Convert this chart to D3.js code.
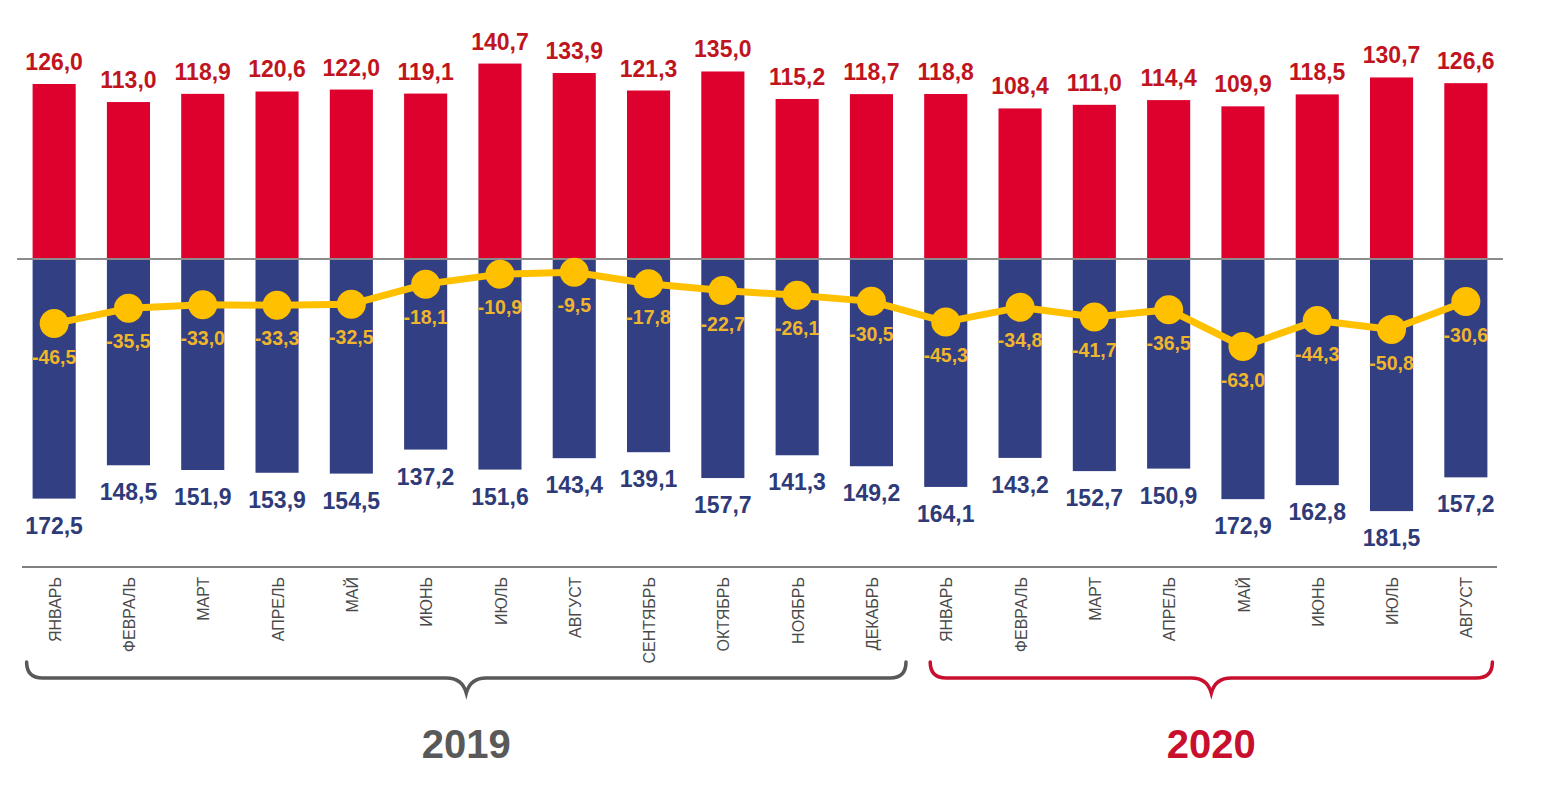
<!DOCTYPE html>
<html><head><meta charset="utf-8">
<script src="https://cdn.jsdelivr.net/npm/d3@7"></script>
<style>html,body{margin:0;padding:0;background:#fff;}svg{display:block;font-family:"Liberation Sans",Arial,sans-serif;}</style>
</head><body>
<svg id="chart" width="1545" height="788"></svg>
<script>
const months = ["ЯНВАРЬ","ФЕВРАЛЬ","МАРТ","АПРЕЛЬ","МАЙ","ИЮНЬ","ИЮЛЬ","АВГУСТ","СЕНТЯБРЬ","ОКТЯБРЬ","НОЯБРЬ","ДЕКАБРЬ",
                "ЯНВАРЬ","ФЕВРАЛЬ","МАРТ","АПРЕЛЬ","МАЙ","ИЮНЬ","ИЮЛЬ","АВГУСТ"];
const redValues = [126.0,113.0,118.9,120.6,122.0,119.1,140.7,133.9,121.3,135.0,115.2,118.7,118.8,108.4,111.0,114.4,109.9,118.5,130.7,126.6];
const blueValues = [172.5,148.5,151.9,153.9,154.5,137.2,151.6,143.4,139.1,157.7,141.3,149.2,164.1,143.2,152.7,150.9,172.9,162.8,181.5,157.2];
const balanceValues = [-46.5,-35.5,-33.0,-33.3,-32.5,-18.1,-10.9,-9.5,-17.8,-22.7,-26.1,-30.5,-45.3,-34.8,-41.7,-36.5,-63.0,-44.3,-50.8,-30.6];
const years = [{label:"2019", from:0, to:11}, {label:"2020", from:12, to:19}];

const svg = d3.select("#chart");
const idx = d3.range(months.length);
const x = d3.scaleBand().domain(idx).range([17, 1503]).paddingInner(0.42).paddingOuter(0.21);
const y = d3.scaleLinear().domain([-200, 150]).range([259 + 200*1.389, 259 - 150*1.389]);
const fmt = v => d3.format(".1f")(Math.abs(v)).replace(".", ",");
const fmtS = v => d3.format(".1f")(v).replace(".", ",").replace("−","-");

const RED = "#de002d", BLUE = "#323f83", GOLD = "#ffc000";
const cx = i => x(i) + x.bandwidth()/2;

// red bars
svg.append("g").selectAll("rect").data(redValues).join("rect")
  .attr("x", (d,i) => x(i)).attr("width", x.bandwidth())
  .attr("y", d => y(d)).attr("height", d => y(0) - y(d)).attr("fill", RED);
// blue bars (negative)
svg.append("g").selectAll("rect").data(blueValues).join("rect")
  .attr("x", (d,i) => x(i)).attr("width", x.bandwidth())
  .attr("y", y(0)).attr("height", d => y(-d) - y(0)).attr("fill", BLUE);

// zero line
svg.append("line").attr("x1", 17).attr("x2", 1503).attr("y1", y(0)).attr("y2", y(0))
  .attr("stroke", "#8c8c8c").attr("stroke-width", 2);

// red labels
svg.append("g").selectAll("text").data(redValues).join("text")
  .attr("x", (d,i) => cx(i)).attr("y", d => y(d) - 14)
  .attr("text-anchor", "middle").attr("font-size", 23).attr("font-weight", "bold")
  .attr("fill", "#c0141e").text(fmt);
// blue labels
svg.append("g").selectAll("text").data(blueValues).join("text")
  .attr("x", (d,i) => cx(i)).attr("y", d => y(-d) + 35)
  .attr("text-anchor", "middle").attr("font-size", 23).attr("font-weight", "bold")
  .attr("fill", "#2f3b78").text(fmt);

// balance line
svg.append("path").datum(balanceValues)
  .attr("d", d3.line().x((d,i) => cx(i)).y(d => y(d)))
  .attr("fill", "none").attr("stroke", GOLD).attr("stroke-width", 7).attr("stroke-linejoin", "round");
svg.append("g").selectAll("circle").data(balanceValues).join("circle")
  .attr("cx", (d,i) => cx(i)).attr("cy", d => y(d)).attr("r", 14.5).attr("fill", GOLD);
svg.append("g").selectAll("text").data(balanceValues).join("text")
  .attr("x", (d,i) => cx(i)).attr("y", d => y(d) + 40)
  .attr("text-anchor", "middle").attr("font-size", 19.5).attr("font-weight", "bold")
  .attr("fill", "#efb52c").text(fmtS);

// category axis line
svg.append("line").attr("x1", 22).attr("x2", 1497).attr("y1", 567).attr("y2", 567)
  .attr("stroke", "#808080").attr("stroke-width", 2);
svg.append("g").selectAll("text").data(months).join("text")
  .attr("transform", (d,i) => `translate(${cx(i)+1},577) rotate(-90)`)
  .attr("dy", "0.35em").attr("text-anchor", "end").attr("font-size", 16)
  .attr("fill", "#4a4a4a").text(d => d);

// braces
function brace(x0, x1, xm, yTop, yH, yTip) {
  const r = 16;
  return `M${x0},${yTop} Q${x0},${yH} ${x0+r},${yH} L${xm-20},${yH} Q${xm-4},${yH} ${xm},${yTip} ` +
         `Q${xm+4},${yH} ${xm+20},${yH} L${x1-r},${yH} Q${x1},${yH} ${x1},${yTop}`;
}
const yearColors = ["#595959", "#c8102e"];
const braceOffsets = [[-6, 13], [6, 5]];
years.forEach((yr, k) => {
  const x0 = x(yr.from) + braceOffsets[k][0];
  const x1 = x(yr.to) + x.bandwidth() + braceOffsets[k][1];
  const xm = (x0 + x1) / 2;
  svg.append("path").attr("d", brace(x0, x1, xm, 662, 678, 693))
    .attr("fill", "none").attr("stroke", yearColors[k]).attr("stroke-width", 3.5).attr("stroke-linecap", "round");
  svg.append("text").attr("x", xm).attr("y", 758).attr("text-anchor", "middle")
    .attr("font-size", 40).attr("font-weight", "bold").attr("fill", yearColors[k]).text(yr.label);
});
</script>
</body></html>
